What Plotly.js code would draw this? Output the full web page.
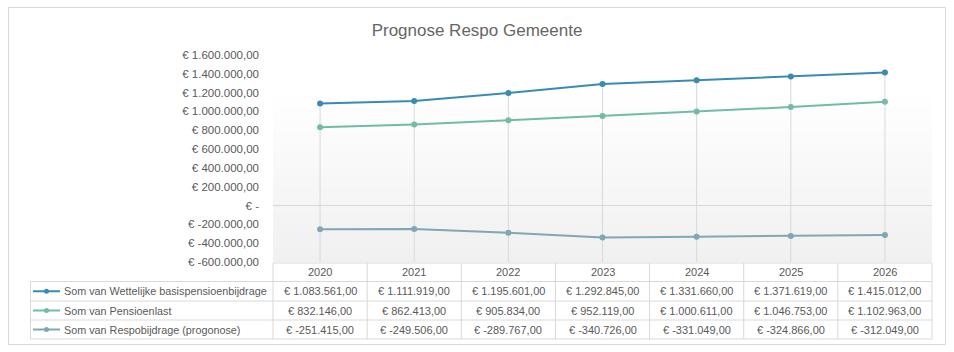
<!DOCTYPE html>
<html>
<head>
<meta charset="utf-8">
<script src="https://cdn.plot.ly/plotly-3.0.1.min.js"></script>
<style>html,body{margin:0;padding:0;background:#fff;}#chart{width:954px;height:352px;}</style>
</head>
<body>
<div id="chart"></div>
<script>
// ---- data ----
var years = ['2020', '2021', '2022', '2023', '2024', '2025', '2026'];
var seriesNames = ['Som van Wettelijke basispensioenbijdrage', 'Som van Pensioenlast', 'Som van Respobijdrage (progonose)'];
var wettelijke = [1083561, 1111919, 1195601, 1292845, 1331660, 1371619, 1415012];
var pensioenlast = [832146, 862413, 905834, 952119, 1000611, 1046753, 1102963];
var respobijdrage = [-251415, -249506, -289767, -340726, -331049, -324866, -312049];
var yTickValues = [-600000, -400000, -200000, 0, 200000, 400000, 600000, 800000, 1000000, 1200000, 1400000, 1600000];
var titleText = 'Prognose Respo Gemeente';

// ---- styling / layout ----
var seriesData = [wettelijke, pensioenlast, respobijdrage];
var colors = ['#3a8bb4', '#72bca1', '#7fa8b4'];
var W = 954, H = 352;
var L = 273, R = 932, T = 55, B = 262;
var PW = R - L, PH = B - T;
function px(x) { return (x - L) / PW; }
function py(y) { return (B - y) / PH; }
function colCenter(i) { return (i + 0.5) / years.length; }

function euro(v) {
  if (v === 0) return '€ -';
  var neg = v < 0;
  var s = Math.abs(Math.round(v)).toString().replace(/\B(?=(\d{3})+(?!\d))/g, '.');
  return '€ ' + (neg ? '-' : '') + s + ',00';
}

var FONT = 'Liberation Sans, Arial, sans-serif';
var TXT = '#595959';
var GRID = '#d9d9d9';

var traces = [];
// drop lines from highest value down to axis bottom
var dx = [], dy = [];
var yMin = yTickValues[0];
for (var i = 0; i < years.length; i++) {
  var mx = Math.max(wettelijke[i], pensioenlast[i], respobijdrage[i]);
  dx.push(years[i], years[i], null);
  dy.push(mx, yMin, null);
}
traces.push({x: dx, y: dy, mode: 'lines', type: 'scatter', line: {color: GRID, width: 1},
  hoverinfo: 'skip', showlegend: false});

for (var s = 0; s < seriesData.length; s++) {
  traces.push({
    x: years, y: seriesData[s], name: seriesNames[s], type: 'scatter', mode: 'lines+markers',
    line: {color: colors[s], width: 2}, marker: {color: colors[s], size: 6}, showlegend: false
  });
}

var shapes = [];
var annotations = [];

// gradient background of plot area
var gTop = 92, nStrips = 34;
var stripH = (B - gTop) / nStrips;
for (var k = 0; k < nStrips; k++) {
  var c = Math.round(255 - 15 * (k + 0.5) / nStrips);
  var col = 'rgb(' + c + ',' + c + ',' + c + ')';
  shapes.push({type: 'rect', layer: 'below', xref: 'paper', yref: 'paper',
    x0: 0, x1: 1, y0: py(gTop + k * stripH), y1: py(gTop + (k + 1) * stripH) - 0.0001,
    line: {width: 0}, fillcolor: col});
}

// outer chart border
shapes.push({type: 'rect', xref: 'paper', yref: 'paper', x0: px(8.5), x1: px(945.5), y0: py(7.5), y1: py(344.5),
  line: {color: GRID, width: 1}, fillcolor: 'rgba(0,0,0,0)'});

// table
var rowY = [263, 281.5, 301, 320, 339];
function hline(x0, x1, y) {
  shapes.push({type: 'line', xref: 'paper', yref: 'paper', x0: x0, x1: x1, y0: py(y), y1: py(y),
    line: {color: GRID, width: 1}});
}
function vline(x, y0, y1) {
  shapes.push({type: 'line', xref: 'paper', yref: 'paper', x0: x, x1: x, y0: py(y0), y1: py(y1),
    line: {color: GRID, width: 1}});
}
hline(0, 1, rowY[0]);
for (var r = 1; r < rowY.length; r++) hline(px(30.5), 1, rowY[r]);
vline(px(30.5), rowY[1], rowY[4]);
for (var k2 = 0; k2 <= years.length; k2++) {
  vline(k2 / years.length, rowY[0], rowY[4]);
}

// header labels
for (var i2 = 0; i2 < years.length; i2++) {
  annotations.push({x: colCenter(i2), xref: 'paper', y: py((rowY[0] + rowY[1]) / 2), yref: 'paper',
    text: years[i2], showarrow: false, xanchor: 'center', yanchor: 'middle',
    font: {family: FONT, size: 11, color: TXT}});
}
// data rows
for (var s2 = 0; s2 < seriesData.length; s2++) {
  var yc = (rowY[s2 + 1] + rowY[s2 + 2]) / 2;
  // legend key
  shapes.push({type: 'line', xref: 'paper', yref: 'paper', x0: px(33), x1: px(60), y0: py(yc), y1: py(yc),
    line: {color: colors[s2], width: 2}});
  shapes.push({type: 'circle', xref: 'paper', yref: 'paper', x0: px(44), x1: px(49), y0: py(yc - 2.5), y1: py(yc + 2.5),
    line: {width: 0}, fillcolor: colors[s2]});
  annotations.push({x: px(62), xref: 'paper', y: py(yc), yref: 'paper', text: seriesNames[s2],
    showarrow: false, xanchor: 'left', yanchor: 'middle', font: {family: FONT, size: 10.8, color: TXT}});
  for (var i3 = 0; i3 < years.length; i3++) {
    annotations.push({x: colCenter(i3), xref: 'paper', y: py(yc), yref: 'paper', text: euro(seriesData[s2][i3]),
      showarrow: false, xanchor: 'center', yanchor: 'middle', font: {family: FONT, size: 11, color: TXT}});
  }
}

var layout = {
  width: W, height: H,
  margin: {l: L, r: W - R, t: T, b: H - B, pad: 0},
  paper_bgcolor: '#ffffff', plot_bgcolor: 'rgba(0,0,0,0)',
  title: {text: titleText, x: 0.5, xref: 'container', xanchor: 'center', y: 1 - 30 / H, yref: 'container', yanchor: 'middle',
    font: {family: FONT, size: 17, color: '#666666'}},
  showlegend: false,
  xaxis: {type: 'category', categoryarray: years, range: [-0.5, years.length - 0.5], showticklabels: false,
    showgrid: false, zeroline: false, showline: false, ticks: '', fixedrange: true},
  yaxis: {range: [yTickValues[0], yTickValues[yTickValues.length - 1]], tickvals: yTickValues,
    ticktext: yTickValues.map(euro), showgrid: false, zeroline: true, zerolinecolor: GRID, zerolinewidth: 1,
    showline: false, ticks: '', ticklabelstandoff: 13, tickfont: {family: FONT, size: 11.5, color: TXT}, fixedrange: true},
  shapes: shapes,
  annotations: annotations,
  hovermode: false
};

Plotly.newPlot('chart', traces, layout, {displayModeBar: false, staticPlot: true});
</script>
</body>
</html>
